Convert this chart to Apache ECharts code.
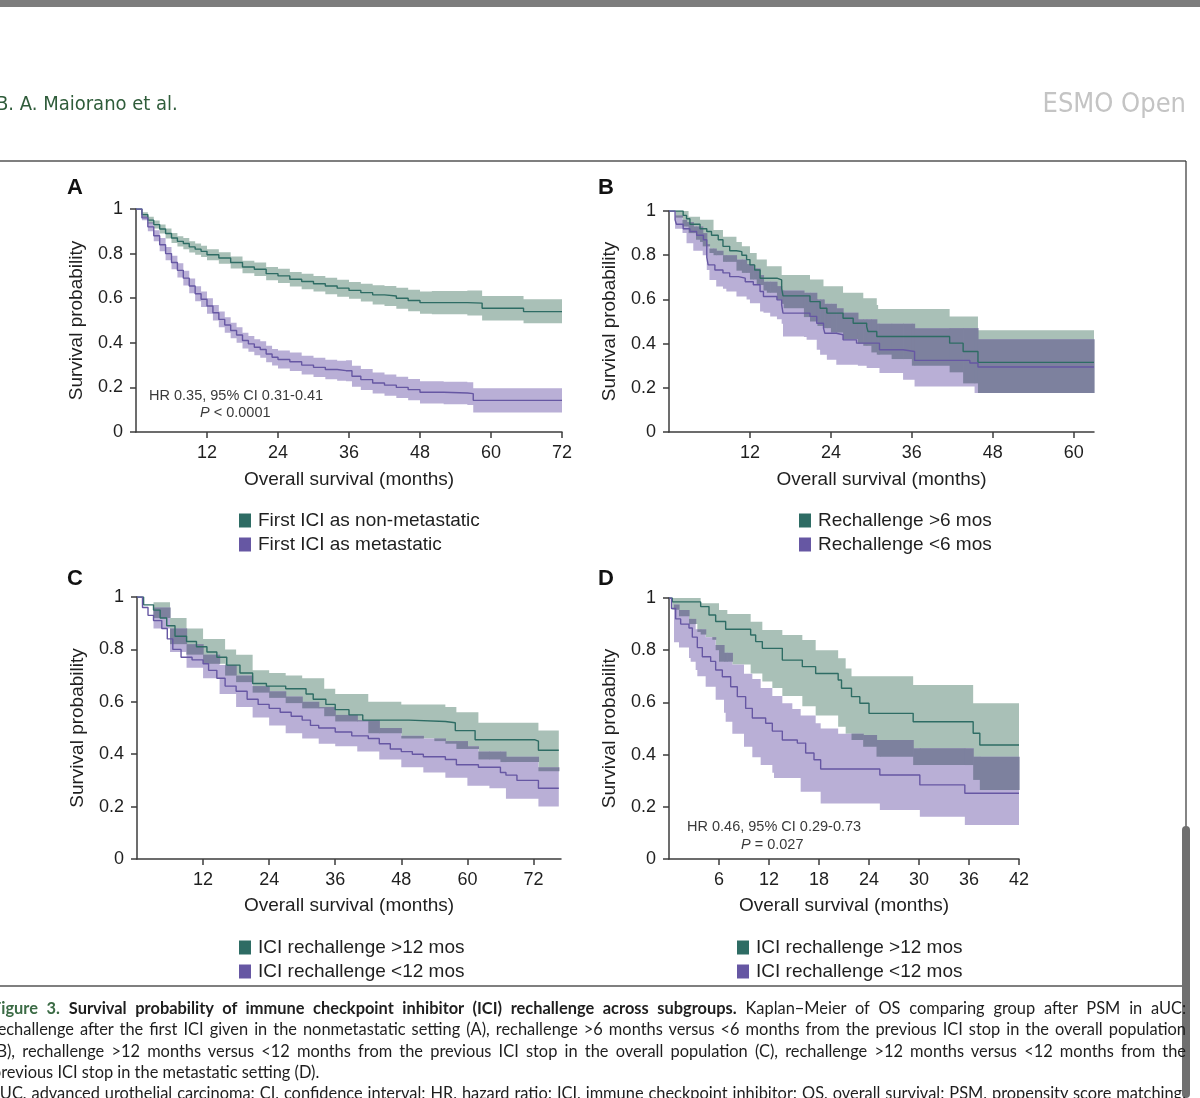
<!DOCTYPE html>
<html>
<head>
<meta charset="utf-8">
<script src="https://cdn.jsdelivr.net/npm/echarts@6/dist/echarts.min.js"></script>
<style>
html,body{margin:0;padding:0;background:#fff;overflow:hidden;width:1200px;height:1098px;}
#chart{position:absolute;left:0;top:0;width:1200px;height:1098px;}
#cap{position:absolute;left:-8px;top:997px;width:1194px;font-family:Lato,"Open Sans",sans-serif;font-size:16.4px;line-height:21.3px;color:#1e1e1e;z-index:2;}
#cap .j{text-align:justify;text-align-last:justify;white-space:normal;}
#cap .fig{color:#3b6b45;font-weight:bold;}
</style>
</head>
<body>
<div id="chart"></div>
<div id="cap">
<div class="j"><span class="fig">Figure 3.</span> <b>Survival probability of immune checkpoint inhibitor (ICI) rechallenge across subgroups.</b> Kaplan−Meier of OS comparing group after PSM in aUC:</div>
<div class="j">rechallenge after the first ICI given in the nonmetastatic setting (A), rechallenge &gt;6 months versus &lt;6 months from the previous ICI stop in the overall population</div>
<div class="j">(B), rechallenge &gt;12 months versus &lt;12 months from the previous ICI stop in the overall population (C), rechallenge &gt;12 months versus &lt;12 months from the</div>
<div>previous ICI stop in the metastatic setting (D).</div>
<div class="j">aUC, advanced urothelial carcinoma; CI, confidence interval; HR, hazard ratio; ICI, immune checkpoint inhibitor; OS, overall survival; PSM, propensity score matching.</div>
</div>
<script>
// ---------------- DATA ----------------
// Panel A: first ICI as non-metastatic (green) vs metastatic (purple)
const A_green_t  = [0,1,2,3,4,5,6,7,8,9,10,11,12,14,16,18,20,22,24,26,28,30,32,34,36,38,40,42,44,46,48,50,56,58.5,65.5,72];
const A_green_s  = [1,.975,.95,.93,.91,.89,.87,.855,.845,.83,.82,.81,.795,.78,.76,.74,.73,.71,.70,.685,.675,.665,.655,.645,.635,.625,.615,.61,.60,.59,.58,.58,.578,.555,.54,.54];
const A_green_lo = [1,.965,.935,.912,.89,.868,.848,.832,.82,.805,.795,.785,.77,.754,.733,.712,.70,.68,.668,.652,.64,.63,.618,.607,.597,.585,.572,.565,.553,.542,.53,.528,.522,.50,.488,.488];
const A_green_hi = [1,.985,.965,.948,.93,.912,.892,.878,.87,.855,.845,.835,.82,.806,.787,.768,.76,.74,.732,.718,.71,.70,.692,.683,.673,.665,.658,.655,.647,.638,.63,.632,.634,.61,.595,.595];
const A_purple_t  = [0,1,2,3,4,5,6,7,8,9,10,11,12,13,14,15,16,17,18,19,20,21,22,23,24,26,28,30,32,34,35.5,36.5,38,40,42,44,46,48,52,56,57,72];
const A_purple_s  = [1,.96,.92,.88,.84,.80,.76,.725,.69,.655,.62,.595,.565,.535,.505,.48,.455,.435,.41,.395,.38,.37,.35,.335,.325,.315,.30,.29,.28,.275,.275,.25,.235,.22,.21,.20,.19,.178,.175,.172,.142,.142];
const A_purple_lo = [1,.95,.90,.855,.81,.77,.73,.693,.657,.622,.586,.56,.53,.50,.47,.445,.42,.40,.375,.36,.344,.333,.313,.298,.285,.273,.258,.247,.236,.23,.228,.203,.188,.173,.162,.152,.142,.128,.125,.121,.088,.088];
const A_purple_hi = [1,.97,.94,.905,.87,.83,.79,.757,.723,.688,.654,.63,.60,.57,.54,.515,.49,.47,.445,.43,.416,.407,.387,.372,.365,.357,.342,.333,.324,.32,.322,.297,.282,.267,.258,.248,.238,.228,.225,.223,.196,.196];

// Panel B: rechallenge >6 mos (green) vs <6 mos (purple)
const B_green_t  = [0,0.9,2.1,2.6,3.1,4.6,5.6,6.3,7.3,8,9,10,10.8,11.5,12,12.7,13.5,16,16.7,16.9,20.9,22.4,23.4,25.8,27.3,29.3,29.5,30.8,41.6,43.6,45.8,63];
const B_green_s  = [1,1,.98,.965,.94,.92,.907,.89,.87,.84,.82,.816,.80,.78,.756,.733,.696,.688,.65,.616,.59,.56,.538,.515,.492,.477,.455,.432,.402,.364,.315,.315];
const B_green_bt = [0,1,2,2.9,4,4.6,5,6,6.6,8,10,10.8,12,13,14,14.5,16,16.7,17,20,20.9,22,22.9,24,25.8,28,28.8,30,30.8,31,33,36,41.6,43.6,45.8,63];
const B_green_lo = [1,.97,.93,.90,.87,.86,.84,.81,.80,.77,.73,.72,.69,.665,.64,.63,.60,.58,.56,.52,.50,.48,.47,.45,.42,.40,.39,.36,.35,.35,.33,.30,.27,.22,.176,.176];
const B_green_hi = [1,1,1,.974,.974,.96,.96,.96,.914,.884,.86,.84,.81,.78,.78,.75,.75,.71,.71,.71,.69,.69,.66,.66,.63,.63,.605,.605,.575,.556,.556,.556,.523,.523,.46,.46];
const B_purple_t  = [0,0.9,1.1,2.1,3.1,4.1,5.1,5.6,5.8,6.8,8,9,10.3,11.3,12.5,13.5,14,16,16.7,16.9,20.9,21.9,22.9,23.1,24.8,25.8,27.8,31.2,34.7,36.4,44.6,45.8,63];
const B_purple_s  = [1,.96,.94,.92,.907,.89,.87,.79,.756,.733,.72,.703,.696,.68,.666,.636,.613,.598,.575,.538,.523,.492,.47,.447,.44,.417,.402,.372,.364,.324,.312,.294,.294];
const B_purple_bt = [0,0.9,2,2.6,3.6,5,5.6,6,7,8,8.5,10,11.5,12,12.5,13.5,14,15,16,16.7,16.9,20,20.4,21.9,22.4,23,23.4,24.8,25.8,28,29.3,30.8,31.2,34.7,36.4,45.3,45.8,63];
const B_purple_lo = [1,.92,.90,.854,.82,.80,.733,.688,.658,.648,.636,.613,.60,.583,.583,.545,.54,.523,.51,.49,.432,.43,.417,.372,.35,.35,.327,.304,.304,.30,.29,.29,.267,.236,.206,.176,.176,.176];
const B_purple_hi = [1,.98,.96,.95,.93,.90,.85,.83,.82,.80,.80,.78,.76,.76,.74,.71,.68,.68,.66,.64,.64,.63,.63,.60,.60,.58,.58,.56,.54,.51,.51,.49,.49,.49,.47,.47,.42,.42];

// Panel C: rechallenge >12 mos (green) vs <12 mos (purple), overall population
const C_green_t  = [0,1.2,3,4.2,5.4,6.9,9,10.8,12.7,14.5,16.3,18.7,21,23.5,27,30.7,32,34.3,36,38.5,41,49.4,56,57.8,61.4,72.3,72.9,76.6];
const C_green_s  = [1,.97,.95,.92,.89,.85,.83,.81,.79,.77,.74,.71,.67,.66,.65,.63,.61,.59,.57,.55,.53,.525,.52,.49,.455,.45,.415,.415];
const C_green_bt = [0,3,6,9,12,16,18,21,24,27,30,34,36,42,48,54,56,58,62,66,72.9,76.6];
const C_green_lo = [1,.92,.82,.78,.745,.70,.675,.635,.615,.595,.575,.545,.525,.48,.46,.45,.44,.42,.38,.37,.335,.335];
const C_green_hi = [1,.98,.92,.88,.84,.80,.78,.72,.71,.70,.69,.65,.63,.60,.59,.59,.58,.56,.52,.52,.49,.49];
const C_purple_t  = [0,1,2,3,4.5,5.5,6.5,8,10,12,13,14.5,16,18,20,22,24,26,28,30,31.5,33,36,39,42,44,46,48,50,52,56,58,62,66,67,69,72.9,76.6];
const C_purple_s  = [1,.96,.93,.91,.88,.84,.80,.77,.76,.745,.72,.69,.66,.64,.61,.59,.575,.56,.545,.53,.51,.50,.485,.47,.46,.44,.42,.41,.40,.39,.38,.36,.35,.33,.32,.30,.27,.27];
const C_purple_bt = [0,3,6,9,12,15,18,21,24,27,30,33,36,40,44,48,52,56,60,62,64,67,72.9,76.6];
const C_purple_lo = [1,.88,.79,.73,.69,.63,.58,.54,.51,.48,.46,.44,.43,.41,.38,.35,.33,.31,.28,.28,.27,.23,.20,.20];
const C_purple_hi = [1,.96,.88,.82,.78,.74,.70,.66,.64,.62,.60,.58,.55,.53,.50,.47,.46,.45,.43,.41,.41,.39,.35,.35];

// Panel D: rechallenge >12 mos (green) vs <12 mos (purple), metastatic setting
const D_green_t  = [0,0.4,3.8,4.8,5.6,6.8,9.8,10.4,11.2,13.6,16,17.6,20.3,20.7,21.9,22.9,24,29.3,36.5,37.3,42];
const D_green_s  = [1,.985,.967,.935,.91,.88,.858,.833,.807,.762,.737,.711,.686,.654,.622,.597,.558,.526,.482,.437,.437];
const D_green_bt = [0,0.4,1.2,2.4,3.4,3.8,4.4,5.2,5.6,6,7,7.6,9.8,11.2,12.4,13.6,16,17.6,20.3,21.2,21.9,23.3,24.9,29.3,36.5,37.3,42];
const D_green_lo = [1,.955,.93,.90,.87,.86,.85,.84,.80,.756,.756,.745,.711,.68,.655,.625,.585,.55,.507,.48,.456,.43,.392,.36,.303,.264,.264];
const D_green_hi = [1,1,1,1,1,.98,.98,.98,.98,.954,.939,.939,.909,.877,.877,.858,.839,.80,.769,.73,.70,.70,.70,.667,.597,.597,.597];
const D_purple_t  = [0,0.3,0.8,1.4,2.4,2.8,3.4,4.0,5.0,5.6,6.4,7.4,8.2,9.2,10,11.6,12.4,13.6,15.4,16.4,17.4,18.2,25.3,30.1,35.5,42];
const D_purple_s  = [1,.96,.92,.90,.885,.85,.81,.775,.757,.724,.698,.66,.622,.577,.54,.52,.49,.456,.444,.406,.38,.345,.322,.284,.252,.252];
const D_purple_bt = [0,0.6,1.2,2.4,2.6,3.2,3.4,4.4,5.6,6.6,6.8,7.6,9,10,11,12.4,12.6,13.6,14.8,15.8,17.6,18.2,20.3,23.3,24.9,25.3,29.3,30.1,35.5,36.5,42];
const D_purple_lo = [1,.83,.81,.77,.756,.724,.70,.66,.61,.56,.526,.48,.43,.39,.36,.33,.31,.31,.31,.258,.258,.213,.213,.213,.213,.188,.188,.162,.13,.13,.13];
const D_purple_hi = [1,.975,.954,.92,.92,.88,.88,.85,.82,.79,.79,.745,.71,.69,.655,.625,.625,.597,.575,.55,.52,.50,.48,.475,.456,.456,.424,.424,.424,.392,.392];

// Axis ticks and labels
const ticksA = [12,24,36,48,60,72];
const ticksB = [12,24,36,48,60];
const ticksC = [12,24,36,48,60,72];
const ticksD = [6,12,18,24,30,36,42];
const legendA = ['First ICI as non-metastatic','First ICI as metastatic'];
const legendB = ['Rechallenge >6 mos','Rechallenge <6 mos'];
const legendC = ['ICI rechallenge >12 mos','ICI rechallenge <12 mos'];
const legendD = ['ICI rechallenge >12 mos ','ICI rechallenge <12 mos '];

// ---------------- STYLE ----------------
const FONT = '"Liberation Sans", Arial, sans-serif';
const GREEN_LINE = '#2e6c64', PURPLE_LINE = '#6657a3';
const GREEN_BAND = '#a9c0b7', PURPLE_BAND = '#b9afd6', OVERLAP_BAND = '#7d819e';
const AX = '#3c3c3c', TXT = '#1f1f1f';

const grids = [
  {left:136, top:209, width:426, height:223},
  {left:669, top:211, width:425, height:221},
  {left:137, top:597, width:424, height:262},
  {left:669, top:598, width:350, height:261}
];
const xMax = [72, 63, 77, 42];
const xInt = [12, 12, 12, 6];
const ticks = [ticksA, ticksB, ticksC, ticksD];

function zip(t, s){ return t.map((v,i)=>[v, s[i]]); }

function stepIndex(t, x){
  for (let i=0;i<t.length-1;i++){ if (t[i] <= x && x < t[i+1]) return i; }
  return -1;
}
function bandPoints(api, t, lo, hi){
  const pts = [], n = t.length;
  for (let i=0;i<n;i++){
    const t1 = i+1<n ? t[i+1] : t[i];
    pts.push(api.coord([t[i], hi[i]]));
    pts.push(api.coord([t1, hi[i]]));
  }
  for (let i=n-1;i>=0;i--){
    const t1 = i+1<n ? t[i+1] : t[i];
    pts.push(api.coord([t1, lo[i]]));
    pts.push(api.coord([t[i], lo[i]]));
  }
  return pts;
}
// two confidence bands of one panel: green, purple, and their overlap (darker)
function bands(gi, g, p){
  return {
    type:'custom', xAxisIndex:gi, yAxisIndex:gi, z:1, silent:true,
    data:[[g.t[0], g.hi[0]]], encode:{x:0, y:1},
    renderItem:function(params, api){
      const children = [
        {type:'polygon', shape:{points:bandPoints(api, g.t, g.lo, g.hi)}, style:{fill:GREEN_BAND}},
        {type:'polygon', shape:{points:bandPoints(api, p.t, p.lo, p.hi)}, style:{fill:PURPLE_BAND}}
      ];
      const xs = Array.from(new Set(g.t.concat(p.t))).sort((a,b)=>a-b);
      for (let k=0;k<xs.length-1;k++){
        const a = xs[k], b = xs[k+1], m = (a+b)/2;
        const i = stepIndex(g.t, m), j = stepIndex(p.t, m);
        if (i<0 || j<0) continue;
        const top = Math.min(g.hi[i], p.hi[j]), bot = Math.max(g.lo[i], p.lo[j]);
        if (top <= bot) continue;
        const p0 = api.coord([a, top]), p1 = api.coord([b, bot]);
        children.push({type:'rect', shape:{x:p0[0], y:p0[1], width:p1[0]-p0[0]+0.6, height:p1[1]-p0[1]}, style:{fill:OVERLAP_BAND}});
      }
      return {type:'group', children:children};
    }
  };
}
function line(gi, name, t, s, color){
  return {
    type:'line', name:name, xAxisIndex:gi, yAxisIndex:gi, z:3, step:'end',
    showSymbol:false, symbol:'none', silent:true, animation:false,
    data:zip(t, s), lineStyle:{color:color, width:1.4}, itemStyle:{color:color}
  };
}

const xAxes = grids.map((g,i)=>({
  type:'value', gridIndex:i, min:0, max:xMax[i], interval:xInt[i],
  name:'Overall survival (months)', nameLocation:'middle', nameGap:i<2?38:37,
  nameTextStyle:{fontSize:19, color:TXT, fontFamily:FONT},
  axisLine:{show:true, lineStyle:{color:AX, width:1.5}},
  axisTick:{show:true, length:6, lineStyle:{color:AX, width:1.5}, customValues:ticks[i]},
  axisLabel:{fontSize:18, color:TXT, fontFamily:FONT, margin:12, customValues:ticks[i]},
  splitLine:{show:false}
}));
const yAxes = grids.map((g,i)=>({
  type:'value', gridIndex:i, min:0, max:1, interval:0.2,
  name:'Survival probability', nameLocation:'middle', nameGap:50,
  nameTextStyle:{fontSize:19, color:TXT, fontFamily:FONT},
  axisLine:{show:true, lineStyle:{color:AX, width:1.5}},
  axisTick:{show:true, length:6, lineStyle:{color:AX, width:1.5}},
  axisLabel:{fontSize:18, color:TXT, fontFamily:FONT, margin:13,
    formatter:v=> (v===0?'0':(v===1?'1':v.toFixed(1)))},
  splitLine:{show:false}
}));

const series = [
  bands(0, {t:A_green_t, lo:A_green_lo, hi:A_green_hi}, {t:A_purple_t, lo:A_purple_lo, hi:A_purple_hi}),
  line(0, legendA[0], A_green_t, A_green_s, GREEN_LINE),
  line(0, legendA[1], A_purple_t, A_purple_s, PURPLE_LINE),
  bands(1, {t:B_green_bt, lo:B_green_lo, hi:B_green_hi}, {t:B_purple_bt, lo:B_purple_lo, hi:B_purple_hi}),
  line(1, legendB[0], B_green_t, B_green_s, GREEN_LINE),
  line(1, legendB[1], B_purple_t, B_purple_s, PURPLE_LINE),
  bands(2, {t:C_green_bt, lo:C_green_lo, hi:C_green_hi}, {t:C_purple_bt, lo:C_purple_lo, hi:C_purple_hi}),
  line(2, legendC[0], C_green_t, C_green_s, GREEN_LINE),
  line(2, legendC[1], C_purple_t, C_purple_s, PURPLE_LINE),
  bands(3, {t:D_green_bt, lo:D_green_lo, hi:D_green_hi}, {t:D_purple_bt, lo:D_purple_lo, hi:D_purple_hi}),
  line(3, legendD[0], D_green_t, D_green_s, GREEN_LINE),
  line(3, legendD[1], D_purple_t, D_purple_s, PURPLE_LINE)
];

function leg(names, left, top){
  return {
    data:names.map(n=>({name:n, icon:'rect'})), left:left, top:top, orient:'vertical',
    itemWidth:12, itemHeight:14, itemGap:5, selectedMode:false,
    textStyle:{fontSize:19, color:TXT, fontFamily:FONT, padding:[0,0,0,2]}
  };
}

const letter = (txt,x,y)=>({type:'text', left:x, top:y, style:{text:txt, font:'bold 22px "Liberation Sans", Arial', fill:'#111'}});
const NOTE_FONT = '14.5px "Liberation Sans", Arial';
const graphic = [
  {type:'rect', shape:{x:0,y:0,width:1200,height:7}, style:{fill:'#7d7d7d'}},
  {type:'text', x:-4, y:105, style:{text:'B. A. Maiorano et al.', font:'20px "DejaVu Sans Condensed", "DejaVu Sans"', fill:'#2f5c3a', verticalAlign:'middle'}},
  {type:'text', x:1186, y:105, style:{text:'ESMO Open', font:'27px "DejaVu Sans Condensed", "DejaVu Sans"', fill:'#c4c4c4', align:'right', verticalAlign:'middle'}},
  {type:'line', shape:{x1:0,y1:161,x2:1186,y2:161}, style:{stroke:'#555', lineWidth:1.5}},
  {type:'line', shape:{x1:1186,y1:161,x2:1186,y2:986}, style:{stroke:'#333', lineWidth:1.2}},
  {type:'line', shape:{x1:0,y1:986,x2:1186,y2:986}, style:{stroke:'#555', lineWidth:1.5}},
  {type:'rect', shape:{x:1182,y:826,width:8,height:272,r:4}, style:{fill:'#6f6f6f'}, z:100},
  letter('A', 67, 177), letter('B', 598, 177), letter('C', 67, 568), letter('D', 598, 568),
  {type:'text', x:149, y:396, style:{text:'HR 0.35, 95% CI 0.31-0.41', font:NOTE_FONT, fill:'#3a3a3a', verticalAlign:'middle'}},
  {type:'text', x:200, y:413, style:{text:'{i|P} < 0.0001', font:NOTE_FONT, fill:'#3a3a3a', verticalAlign:'middle',
     rich:{i:{fontStyle:'italic', fontSize:14.5, fontFamily:'"Liberation Sans", Arial', fill:'#3a3a3a'}}}},
  {type:'text', x:687, y:827, style:{text:'HR 0.46, 95% CI 0.29-0.73', font:NOTE_FONT, fill:'#3a3a3a', verticalAlign:'middle'}},
  {type:'text', x:741, y:845, style:{text:'{i|P} = 0.027', font:NOTE_FONT, fill:'#3a3a3a', verticalAlign:'middle',
     rich:{i:{fontStyle:'italic', fontSize:14.5, fontFamily:'"Liberation Sans", Arial', fill:'#3a3a3a'}}}}
];

const chart = echarts.init(document.getElementById('chart'), null, {renderer:'canvas'});
chart.setOption({
  backgroundColor:'#ffffff',
  animation:false,
  textStyle:{fontFamily:FONT},
  grid:grids,
  xAxis:xAxes,
  yAxis:yAxes,
  legend:[leg(legendA,234,506), leg(legendB,794,506), leg(legendC,234,933), leg(legendD,732,933)],
  series:series,
  graphic:graphic
});
</script>
</body>
</html>
